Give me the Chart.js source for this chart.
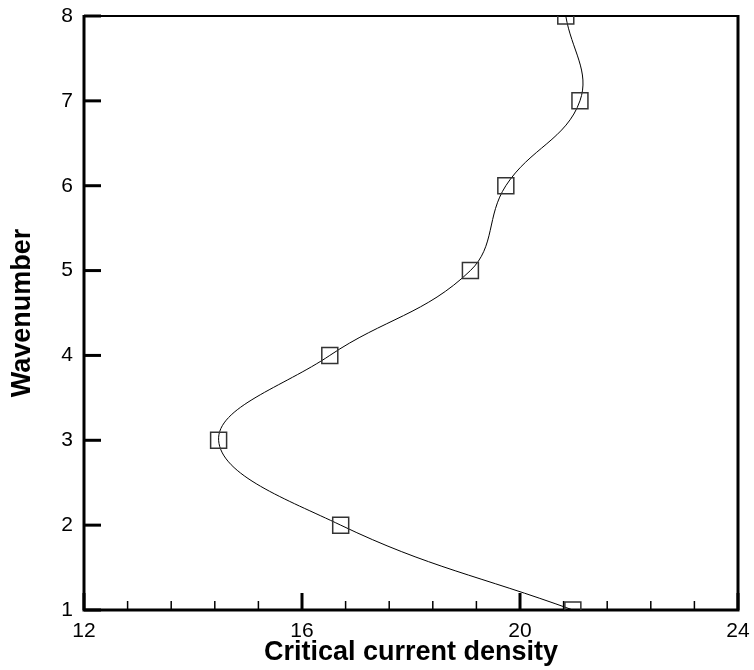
<!DOCTYPE html>
<html>
<head>
<meta charset="utf-8">
<script src="https://cdn.jsdelivr.net/npm/chart.js@4/dist/chart.umd.min.js"></script>
<style>
  html, body { margin: 0; padding: 0; background: #fff; }
  #wrap { width: 754px; height: 670px; }
</style>
</head>
<body>
<div id="wrap"><canvas id="chart"></canvas></div>
<script>
// wavenumber (y) vs critical current density (x)
const wavenumbers = [1, 2, 3, 4, 5, 6, 7, 8];
const currentDensity = [20.97, 16.71, 14.47, 16.51, 19.09, 19.74, 21.10, 20.84];
const xTicks = [12, 16, 20, 24];
const xMinorStep = 0.8;
const yTicks = [1, 2, 3, 4, 5, 6, 7, 8];

const FONT = '"Liberation Sans", Arial, sans-serif';

// frame and inward ticks, drawn with the chart's own scales
const framePlugin = {
  id: 'frame',
  beforeDatasetsDraw(chart) {
    const { ctx, chartArea: a, scales } = chart;
    ctx.save();
    ctx.strokeStyle = '#000';
    ctx.lineCap = 'butt';

    // major x ticks
    ctx.lineWidth = 3;
    xTicks.forEach(v => {
      const px = scales.x.getPixelForValue(v);
      ctx.beginPath();
      ctx.moveTo(px, a.bottom);
      ctx.lineTo(px, a.bottom - 17);
      ctx.stroke();
    });
    // minor x ticks
    ctx.lineWidth = 1.5;
    for (let v = xTicks[0]; v < xTicks[xTicks.length - 1]; v += xMinorStep) {
      const r = Math.round(v * 10) / 10;
      if (xTicks.includes(r)) continue;
      const px = scales.x.getPixelForValue(r);
      ctx.beginPath();
      ctx.moveTo(px, a.bottom);
      ctx.lineTo(px, a.bottom - 9);
      ctx.stroke();
    }
    // y ticks
    ctx.lineWidth = 3;
    yTicks.forEach(v => {
      const py = scales.y.getPixelForValue(v);
      ctx.beginPath();
      ctx.moveTo(a.left, py);
      ctx.lineTo(a.left + 17, py);
      ctx.stroke();
    });

    // frame
    ctx.lineWidth = 2;
    ctx.beginPath();
    ctx.moveTo(a.left, a.top);
    ctx.lineTo(a.right, a.top);
    ctx.stroke();
    ctx.lineWidth = 3;
    ctx.beginPath();
    ctx.moveTo(a.left, a.top - 1);
    ctx.lineTo(a.left, a.bottom);
    ctx.lineTo(a.right, a.bottom);
    ctx.lineTo(a.right, a.top - 1);
    ctx.stroke();
    ctx.restore();
  }
};

new Chart(document.getElementById('chart'), {
  type: 'line',
  data: {
    datasets: [{
      data: wavenumbers.map((w, i) => ({ x: currentDensity[i], y: w })),
      borderColor: '#000',
      borderWidth: 1,
      tension: 0.4,
      fill: false,
      pointStyle: 'rect',
      pointRadius: 11.3,
      pointBorderWidth: 1.5,
      pointBorderColor: '#333',
      pointBackgroundColor: 'rgba(0,0,0,0)'
    }]
  },
  options: {
    responsive: true,
    maintainAspectRatio: false,
    animation: false,
    events: [],
    layout: { padding: { top: 16, right: 16, left: 0, bottom: 0 } },
    plugins: { legend: { display: false }, tooltip: { enabled: false } },
    scales: {
      x: {
        type: 'linear',
        min: 12,
        max: 24,
        grid: { display: false, drawTicks: false },
        border: { display: false },
        afterBuildTicks: s => { s.ticks = xTicks.map(v => ({ value: v })); },
        afterFit: s => { s.height = 60; s.paddingLeft = 0; s.paddingRight = 0; },
        ticks: {
          padding: 9,
          maxRotation: 0,
          color: '#000',
          font: { family: FONT, size: 21 }
        },
        title: {
          display: true,
          text: 'Critical current density',
          color: '#000',
          padding: { top: 0, bottom: 1 },
          font: { family: FONT, size: 27, weight: 'bold' }
        }
      },
      y: {
        type: 'linear',
        min: 1,
        max: 8,
        grid: { display: false, drawTicks: false },
        border: { display: false },
        afterBuildTicks: s => { s.ticks = yTicks.map(v => ({ value: v })); },
        afterFit: s => { s.width = 84; s.paddingTop = 0; s.paddingBottom = 0; },
        ticks: {
          padding: 11,
          color: '#000',
          font: { family: FONT, size: 21 }
        },
        title: {
          display: true,
          text: 'Wavenumber',
          color: '#000',
          padding: { top: 6, bottom: 6 },
          font: { family: FONT, size: 27, weight: 'bold' }
        }
      }
    }
  },
  plugins: [framePlugin]
});
</script>
</body>
</html>
